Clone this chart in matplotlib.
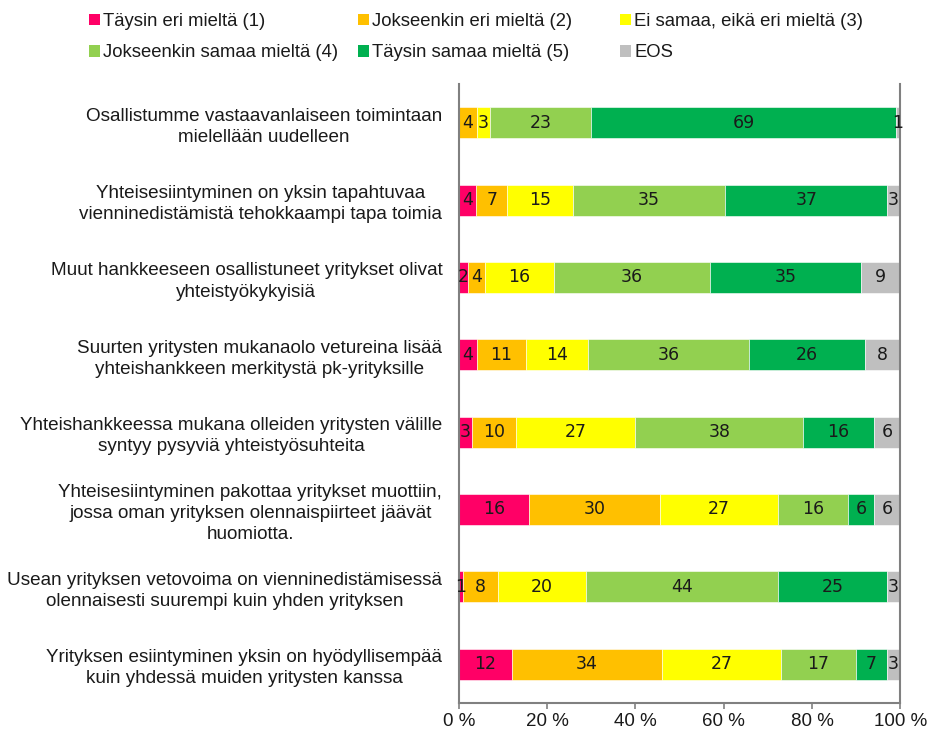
import matplotlib.pyplot as plt
from matplotlib.patches import Patch
import numpy as np

plt.rcParams['font.family'] = ['Liberation Sans', 'DejaVu Sans']

statements = [
    "Osallistumme vastaavanlaiseen toimintaan\nmielellään uudelleen",
    "Yhteisesiintyminen on yksin tapahtuvaa\nvienninedistämistä tehokkaampi tapa toimia",
    "Muut hankkeeseen osallistuneet yritykset olivat\nyhteistyökykyisiä",
    "Suurten yritysten mukanaolo vetureina lisää\nyhteishankkeen merkitystä pk-yrityksille",
    "Yhteishankkeessa mukana olleiden yritysten välille\nsyntyy pysyviä yhteistyösuhteita",
    "Yhteisesiintyminen pakottaa yritykset muottiin,\njossa oman yrityksen olennaispiirteet jäävät\nhuomiotta.",
    "Usean yrityksen vetovoima on vienninedistämisessä\nolennaisesti suurempi kuin yhden yrityksen",
    "Yrityksen esiintyminen yksin on hyödyllisempää\nkuin yhdessä muiden yritysten kanssa",
]

series_names = ["Täysin eri mieltä (1)", "Jokseenkin eri mieltä (2)",
                "Ei samaa, eikä eri mieltä (3)", "Jokseenkin samaa mieltä (4)",
                "Täysin samaa mieltä (5)", "EOS"]
colors = ["#FF0066", "#FFC000", "#FFFF00", "#92D050", "#00B050", "#BFBFBF"]

# percentages per statement, one list per answer option
t1 = [0, 4, 2, 4, 3, 16, 1, 12]
t2 = [4, 7, 4, 11, 10, 30, 8, 34]
t3 = [3, 15, 16, 14, 27, 27, 20, 27]
t4 = [23, 35, 36, 36, 38, 16, 44, 17]
t5 = [69, 37, 35, 26, 16, 6, 25, 7]
eos = [1, 3, 9, 8, 6, 6, 3, 3]

data = np.array([t1, t2, t3, t4, t5, eos], dtype=float)
shares = data / data.sum(axis=0) * 100

fig = plt.figure(figsize=(9.29, 7.34), dpi=100)
ax = fig.add_axes([0.494, 0.0425, 0.475, 0.843])

y = np.arange(len(statements))
left = np.zeros(len(statements))
for i in range(len(series_names)):
    bars = ax.barh(y, shares[i], left=left, height=0.4, color=colors[i],
                   edgecolor='white', linewidth=0.4, label=series_names[i])
    labels = [str(int(v)) if v > 0 else '' for v in data[i]]
    ax.bar_label(bars, labels=labels, label_type='center',
                 fontsize=12.5, family='DejaVu Sans', color='#1a1a1a')
    left += shares[i]

ax.set_xlim(0, 100)
ax.set_ylim(len(statements) - 0.5, -0.5)
ax.set_yticks(y)
ax.set_yticklabels(statements, fontsize=13.6, multialignment='center',
                   linespacing=1.32, color='#1a1a1a')
ax.tick_params(axis='y', length=0, pad=12)
ax.set_xticks(np.arange(0, 101, 20))
ax.set_xticklabels([f"{v} %" for v in range(0, 101, 20)], fontsize=13.5,
                   color='#1a1a1a')
ax.tick_params(axis='x', direction='out', length=4, color='#808080', width=1.2,
               pad=3)

ax.spines['top'].set_visible(False)
for s in ['left', 'right', 'bottom']:
    ax.spines[s].set_color('#808080')
    ax.spines[s].set_linewidth(1.5)

# legend: three columns, two rows, laid out row by row as in the original
handles = [Patch(facecolor=c, edgecolor='none') for c in colors]
col_x = [0.0775, 0.367, 0.649]
for c in range(3):
    idx = [c, c + 3]
    fig.legend([handles[k] for k in idx], [series_names[k] for k in idx],
               loc='upper left', bbox_to_anchor=(col_x[c], 1.005),
               frameon=False, fontsize=13.3, handlelength=0.6,
               handleheight=0.6, handletextpad=0.2, labelspacing=0.78,
               labelcolor='#1a1a1a')

plt.savefig('out.png', dpi=100)
